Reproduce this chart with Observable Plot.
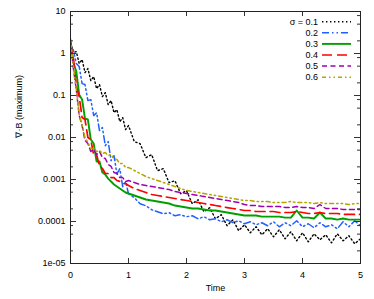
<!DOCTYPE html>
<html><head><meta charset="utf-8">
<script src="https://cdn.jsdelivr.net/npm/d3@7"></script>
<script src="https://cdn.jsdelivr.net/npm/@observablehq/plot@0.6"></script>
<style>
body{margin:0;background:#fff}
svg{display:block}
</style>
</head><body><div id="chart"></div>
<script>
// ---- data ----
const time = [0,0.05,0.1,0.15,0.2,0.25,0.3,0.35,0.4,0.45,0.5,0.55,0.6,0.65,0.7,0.75,0.8,0.85,0.9,0.95,1.0,
  1.1,1.2,1.3,1.4,1.5,1.6,1.7,1.8,1.9,2.0,
  2.1,2.2,2.3,2.4,2.5,2.6,2.7,2.8,2.9,3.0,
  3.1,3.2,3.3,3.4,3.5,3.6,3.7,3.8,3.9,4.0,
  4.1,4.2,4.3,4.4,4.5,4.6,4.7,4.8,4.9,5.0];

const sigmaLabels = ["σ = 0.1","0.2","0.3","0.4","0.5","0.6"];

const sigma01 = [1.82,1.05,1.11,0.576,0.717,0.351,0.438,0.226,0.282,0.146,0.182,0.0941,0.117,0.0607,0.0756,0.0391,0.0461,0.0239,0.0297,0.0154,0.0192,
  0.00796,0.00713,0.00331,0.00390,0.00162,0.00181,0.000839,0.000936,0.000459,0.000541,
  0.000265,0.000330,0.000171,0.000213,0.000116,0.000145,7.92e-5,0.000110,6.02e-5,8.37e-5,
  5.39e-5,7.49e-5,4.83e-5,6.71e-5,4.33e-5,6.36e-5,3.88e-5,5.69e-5,3.48e-5,5.39e-5,
  3.29e-5,5.10e-5,3.67e-5,4.83e-5,3.11e-5,5.10e-5,3.48e-5,4.57e-5,2.95e-5,3.88e-5];

const sigma02 = [1.55,1.18,0.576,0.489,0.192,0.182,0.0756,0.0798,0.0332,0.0391,0.0146,0.0172,0.00639,0.00796,0.00281,0.00369,0.00137,0.00181,0.000673,0.000886,0.000459,
  0.000368,0.000265,0.000237,0.000191,0.000171,0.000153,0.000162,0.000137,0.000145,0.000130,
  0.000137,0.000116,0.000130,0.000110,0.000116,9.86e-5,0.000110,9.34e-5,0.000104,8.84e-5,
  9.86e-5,8.37e-5,9.34e-5,7.92e-5,9.86e-5,7.49e-5,9.34e-5,7.92e-5,0.000104,7.49e-5,
  8.84e-5,7.09e-5,9.34e-5,7.49e-5,8.37e-5,6.71e-5,9.86e-5,7.49e-5,0.000104,7.92e-5];

const sigma03 = [2.04,0.61,0.373,0.105,0.0803,0.0283,0.0268,0.00896,0.0072,0.00268,0.00268,0.00147,0.00131,0.00105,0.000896,0.00076,0.000681,0.00061,0.000547,0.00049,0.000464,
  0.000416,0.000373,0.000334,0.000316,0.000299,0.000283,0.000268,0.00024,0.000227,0.000215,
  0.000204,0.000204,0.000193,0.000183,0.000183,0.000173,0.000164,0.000155,0.000147,0.000139,
  0.000139,0.000139,0.000131,0.000131,0.000131,0.000131,0.000124,0.000124,0.000183,0.000124,
  0.000124,0.000118,0.000164,0.000118,0.000118,0.000111,0.000118,0.000111,0.000111,0.000111];

const sigma04 = [1.83,0.76,0.164,0.0947,0.0299,0.0268,0.01,0.00896,0.00373,0.00394,0.00204,0.00183,0.00139,0.00139,0.00111,0.00111,0.000947,0.000896,0.000803,0.000803,0.00072,
  0.00061,0.000547,0.00049,0.000439,0.000416,0.000394,0.000373,0.000353,0.000334,0.000316,
  0.000299,0.000283,0.000268,0.000254,0.00024,0.000227,0.000215,0.000204,0.000193,0.000183,
  0.000183,0.000173,0.000173,0.000173,0.000173,0.000164,0.000164,0.000164,0.000173,0.000164,
  0.000155,0.000155,0.000164,0.000155,0.000155,0.000155,0.000147,0.000147,0.000147,0.000147];

const sigma05 = [2.04,0.439,0.139,0.0334,0.0193,0.00848,0.0072,0.00464,0.00518,0.00394,0.00464,0.00334,0.00316,0.00227,0.00204,0.00147,0.00139,0.00111,0.00111,0.000896,0.000947,
  0.000848,0.00076,0.00072,0.000681,0.000645,0.00061,0.000578,0.000518,0.00049,0.000464,
  0.000439,0.000416,0.000394,0.000373,0.000353,0.000334,0.000316,0.000299,0.000283,0.000254,
  0.00024,0.00024,0.000227,0.000227,0.000227,0.000227,0.000215,0.000215,0.000227,0.000215,
  0.000215,0.000204,0.000254,0.000204,0.000204,0.000204,0.000193,0.000193,0.000193,0.000193];

const sigma06 = [2.27,0.49,0.139,0.0353,0.0193,0.01,0.0076,0.00547,0.00547,0.00464,0.0049,0.00416,0.00439,0.00373,0.00394,0.00316,0.00299,0.0024,0.0024,0.00193,0.00193,
  0.00164,0.00139,0.00118,0.00105,0.000947,0.000848,0.00076,0.000681,0.00061,0.000547,
  0.000518,0.00049,0.000464,0.000439,0.000416,0.000394,0.000373,0.000353,0.000334,0.000316,
  0.000316,0.000299,0.000299,0.000299,0.000283,0.000283,0.000283,0.000299,0.000283,0.000283,
  0.000283,0.000268,0.000283,0.000268,0.000268,0.000268,0.000268,0.000254,0.000268,0.000268];

const yTicks = [10,1,0.1,0.01,0.001,0.0001,0.00001];
const yTickLabels = ["10","1","0.1","0.01","0.001","0.0001","1e-05"];
const yMinorTicks = [8,5,2,0.8,0.5,0.2,0.08,0.05,0.02,0.008,0.005,0.002,0.0008,0.0005,0.0002,0.00008,0.00005,0.00002];
const xTicks = [0,1,2,3,4,5];
const xTickLabels = ["0","1","2","3","4","5"];

// ---- styles ----
const seriesValues = [sigma01,sigma02,sigma03,sigma04,sigma05,sigma06];
const colors = ["#000000","#2060ff","#00a000","#ff0000","#a000b0","#b4a400"];
const dashes = ["1.4,2.6","7,3,1.5,3,1.5,3",null,"10,5","5,3.5","4,3,1.5,3,1.5,3"];
const widths = [1.4,1.5,1.9,1.7,1.5,1.5];

const W = 374, H = 299, mL = 70, mR = 14, mT = 11, mB = 36;
const iw = W - mL - mR, ih = H - mT - mB;
const font = "'Liberation Sans', Arial, Helvetica, sans-serif";

const seriesRows = seriesValues.map(vals => time.map((t, i) => ({t, v: vals[i]})));

const marks = [];
seriesRows.forEach((rows, i) => {
  marks.push(Plot.line(rows, {x: "t", y: "v", stroke: colors[i], strokeWidth: widths[i],
    strokeDasharray: dashes[i] ?? undefined, strokeLinejoin: "round", clip: true}));
});
// inward tick marks (left, right, bottom, top)
marks.push(
  Plot.ruleY(yTicks, {y: d => d, stroke: "#333", insetRight: iw - 6}),
  Plot.ruleY(yTicks, {y: d => d, stroke: "#333", insetLeft: iw - 6}),
  Plot.ruleY(yMinorTicks, {y: d => d, stroke: "#333", insetRight: iw - 3}),
  Plot.ruleY(yMinorTicks, {y: d => d, stroke: "#333", insetLeft: iw - 3}),
  Plot.ruleX(xTicks.slice(1, -1), {x: d => d, stroke: "#333", insetTop: ih - 5}),
  Plot.ruleX(xTicks.slice(1, -1), {x: d => d, stroke: "#333", insetBottom: ih - 5}),
  Plot.frame({stroke: "#222", strokeWidth: 1}),
  Plot.axisY({ticks: yTicks, tickFormat: d => yTickLabels[yTicks.indexOf(d)], tickSize: 0, tickPadding: 5, label: null}),
  Plot.axisX({ticks: xTicks, tickFormat: d => xTickLabels[xTicks.indexOf(d)], tickSize: 0, tickPadding: 8, label: null}),
  Plot.text(["∇·B (maximum)"], {text: d => d, frameAnchor: "left", dx: -51, rotate: -90, fontSize: 9}),
  Plot.text(["Time"], {text: d => d, frameAnchor: "bottom", dy: 27, fontSize: 9})
);

const chart = Plot.plot({
  width: W, height: H,
  marginLeft: mL, marginRight: mR, marginTop: mT, marginBottom: mB,
  style: {fontFamily: font, fontSize: "9px", color: "#000", background: "#fff"},
  x: {domain: [0, 5]},
  y: {type: "log", domain: [0.00001, 10]},
  marks
});
document.getElementById("chart").appendChild(chart);

// legend (inside, top-right)
const svg = d3.select(chart);
const lg = svg.append("g").attr("font-family", font).attr("font-size", 9);
sigmaLabels.forEach((lab, i) => {
  const yy = 21.7 + 11.1 * i;
  lg.append("text").attr("x", 318).attr("y", yy).attr("dy", "0.35em")
    .attr("text-anchor", "end").attr("fill", "#000").text(lab);
  lg.append("line").attr("x1", 322).attr("x2", 351).attr("y1", yy).attr("y2", yy)
    .attr("stroke", colors[i]).attr("stroke-width", widths[i])
    .attr("stroke-dasharray", dashes[i] ?? null);
});
</script>
</body></html>
